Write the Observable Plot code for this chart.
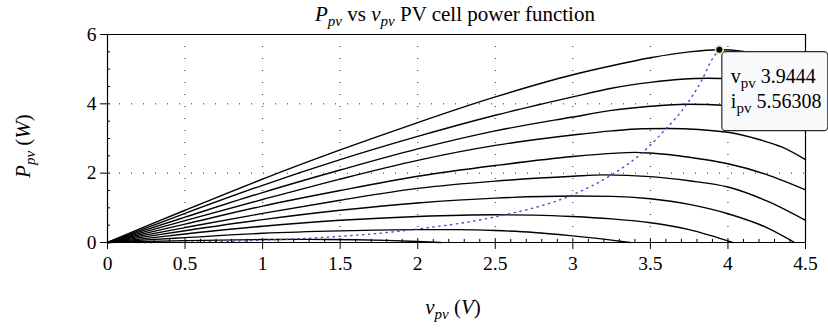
<!DOCTYPE html>
<html><head><meta charset="utf-8">
<script src="https://cdn.jsdelivr.net/npm/d3@7"></script>
<script src="https://cdn.jsdelivr.net/npm/@observablehq/plot@0.6"></script>
<style>
html,body{margin:0;padding:0;background:#fff;}
#chart{width:828px;height:332px;}
#chart svg text{font-family:'Liberation Serif','Times New Roman',serif;}
</style></head><body>
<div id="chart"></div>
<script>
// ---- data ----
const xTicks = [0, 0.5, 1, 1.5, 2, 2.5, 3, 3.5, 4, 4.5];
const yTicks = [0, 2, 4, 6];
const xGrid = [0.5, 1, 1.5, 2, 2.5, 3, 3.5, 4];
const yGrid = [2, 4];

// P-V curves [v, P]
const curve1 = [[0,0],[0.25,0.47],[0.5,0.93],[1,1.83],[1.5,2.67],[2,3.46],[2.5,4.2],[3,4.84],[3.25,5.1],[3.5,5.33],[3.75,5.5],[3.944,5.56],[4.25,5.38],[4.5,4.95]];
const curve2 = [[0,0],[0.25,0.42],[0.5,0.84],[1,1.65],[1.5,2.39],[2,3.06],[2.5,3.67],[3,4.2],[3.25,4.45],[3.5,4.62],[3.7,4.71],[3.87,4.74],[4.2,4.6],[4.5,4.15]];
const curve3 = [[0,0],[0.25,0.37],[0.5,0.73],[1,1.44],[1.5,2.09],[2,2.7],[2.5,3.22],[3,3.62],[3.25,3.81],[3.5,3.93],[3.73,3.99],[4,3.95],[4.25,3.78],[4.5,3.4]];
const curve4 = [[0,0],[0.25,0.32],[0.5,0.63],[1,1.24],[1.5,1.83],[2,2.37],[2.5,2.8],[3,3.1],[3.25,3.22],[3.45,3.28],[3.62,3.29],[4,3.18],[4.2,2.97],[4.35,2.75],[4.5,2.39]];
const curve5 = [[0,0],[0.25,0.27],[0.5,0.53],[1,1.05],[1.5,1.5],[2,1.91],[2.5,2.22],[3,2.48],[3.25,2.57],[3.4,2.6],[3.5,2.58],[3.75,2.46],[4,2.27],[4.25,1.96],[4.5,1.52]];
const curve6 = [[0,0],[0.25,0.22],[0.5,0.43],[1,0.84],[1.5,1.22],[2,1.56],[2.5,1.77],[3,1.91],[3.2,1.95],[3.5,1.9],[3.75,1.78],[4,1.6],[4.25,1.2],[4.5,0.64]];
const curve7 = [[0,0],[0.25,0.17],[0.5,0.34],[1,0.66],[1.5,0.93],[2,1.14],[2.5,1.28],[3,1.34],[3.25,1.33],[3.5,1.26],[3.75,1.1],[4,0.83],[4.25,0.43],[4.43,0]];
const curve8 = [[0,0],[0.25,0.12],[0.5,0.245],[1,0.47],[1.5,0.64],[2,0.75],[2.5,0.8],[2.75,0.79],[3,0.75],[3.25,0.68],[3.5,0.57],[3.75,0.37],[4.03,0]];
const curve9 = [[0,0],[0.25,0.075],[0.5,0.14],[1,0.265],[1.5,0.335],[2,0.37],[2.25,0.37],[2.5,0.345],[2.75,0.29],[3,0.19],[3.25,0.07],[3.37,0]];
const curve10 = [[0,0],[0.25,0.03],[0.5,0.055],[1,0.085],[1.3,0.09],[1.6,0.08],[1.8,0.06],[2,0.03],[2.15,0]];

// maximum power point locus (blue dotted)
const locus = [[0.2,0],[0.5,0.01],[0.9,0.05],[1.4,0.15],[1.83,0.3],[2,0.39],[2.5,0.74],[3,1.38],[3.25,1.95],[3.44,2.56],[3.59,3.23],[3.72,3.9],[3.83,4.67],[3.9,5.3],[3.944,5.56]];

// highlighted point and tooltip
const mppV = 3.9444;
const mppP = 5.56308;
const tipNames = ["v", "i"];
const tipValues = ["3.9444", "5.56308"];

const curves = [curve1, curve2, curve3, curve4, curve5, curve6, curve7, curve8, curve9, curve10];
const xMinor = d3.range(0, 46).map(i => i / 10);
const yMinor = d3.range(0, 13).map(i => i / 2);

const FONT = "'Liberation Serif', 'Times New Roman', serif";

const plot = Plot.plot({
  width: 828, height: 332,
  marginLeft: 107, marginRight: 23, marginTop: 34, marginBottom: 90,
  x: {domain: [0, 4.5]},
  y: {domain: [0, 6]},
  style: {fontFamily: FONT, fontSize: "19px", background: "white", color: "black", overflow: "visible"},
  marks: [
    Plot.gridX(xGrid, {stroke: "#222", strokeOpacity: 1, strokeWidth: 1, strokeDasharray: "1,11"}),
    Plot.gridY(yGrid, {stroke: "#222", strokeOpacity: 1, strokeWidth: 1, strokeDasharray: "1,11"}),
    ...curves.map(c => Plot.line(c, {curve: "monotone-x", stroke: "black", strokeWidth: 1.4})),
    Plot.line(locus, {curve: "monotone-x", stroke: "#4a4ad0", strokeWidth: 1.4, strokeDasharray: "1.3,4.6"}),
    Plot.ruleX(xMinor, {y1: 0, y2: 0.09, stroke: "black", strokeWidth: 1}),
    Plot.ruleY(yMinor, {x1: 0, x2: 0.02, stroke: "black", strokeWidth: 1}),
    Plot.axisX(xTicks, {tickSize: 7, tickPadding: 7, fontSize: 19.5, fontFamily: FONT, label: null, tickFormat: d => String(d), stroke: "black"}),
    Plot.axisY(yTicks, {tickSize: 7, tickPadding: 4, fontSize: 19.5, fontFamily: FONT, label: null, tickFormat: d => String(d), stroke: "black"}),
    Plot.ruleY([0, 6], {stroke: "black", strokeWidth: 1.2}),
    Plot.ruleX([0, 4.5], {stroke: "black", strokeWidth: 1.2}),
    Plot.dot([[mppV, mppP]], {r: 3.8, fill: "black", stroke: "#eddcab", strokeWidth: 1.6})
  ]
});
document.getElementById("chart").appendChild(plot);

const svg = d3.select(plot);
const X = plot.scale("x"), Y = plot.scale("y");

function richText(parent, x, y, parts, attrs, size, subSize) {
  const t = parent.append("text").attr("x", x).attr("y", y)
    .attr("font-family", FONT).attr("font-size", size).attr("fill", "black")
    .attr("text-anchor", "start");
  for (const k in (attrs || {})) t.attr(k, attrs[k]);
  let shift = 0;
  for (const p of parts) {
    const s = t.append("tspan").text(p.t);
    if (p.i) s.attr("font-style", "italic");
    const target = p.sub ? 5 : 0;
    if (target !== shift) { s.attr("dy", target - shift); shift = target; }
    if (p.sub) s.attr("font-size", subSize);
  }
  return t;
}

// tooltip
const px = X.apply(mppV), py = Y.apply(mppP);
const tip = svg.append("g");
tip.append("rect").attr("x", px + 3).attr("y", py + 2.5).attr("width", 106).attr("height", 79).attr("rx", 4)
  .attr("fill", "#f9fafc").attr("stroke", "#2a2a2a").attr("stroke-width", 1.2);
richText(tip, px + 12, py + 34, [{t: tipNames[0]}, {t: "pv", sub: true}, {t: " " + tipValues[0]}], {}, 20, 15);
richText(tip, px + 12, py + 59, [{t: tipNames[1]}, {t: "pv", sub: true}, {t: " " + tipValues[1]}], {}, 20, 15);
svg.select("g[aria-label='dot']").raise();

// title and axis labels
richText(svg, 455, 21, [{t: "P", i: true}, {t: "pv", sub: true, i: true}, {t: " vs "}, {t: "v", i: true}, {t: "pv", sub: true, i: true}, {t: " PV cell power function"}], {"text-anchor": "middle"}, 21, 15);
richText(svg, 453, 314, [{t: "v", i: true}, {t: "pv", sub: true, i: true}, {t: " ("}, {t: "V", i: true}, {t: ")"}], {"text-anchor": "middle"}, 21, 15);
richText(svg, 0, 0, [{t: "P", i: true}, {t: "pv", sub: true, i: true}, {t: " ("}, {t: "W", i: true}, {t: ")"}], {"text-anchor": "middle", transform: "translate(30,146) rotate(-90)"}, 21, 15);
</script>
</body></html>
